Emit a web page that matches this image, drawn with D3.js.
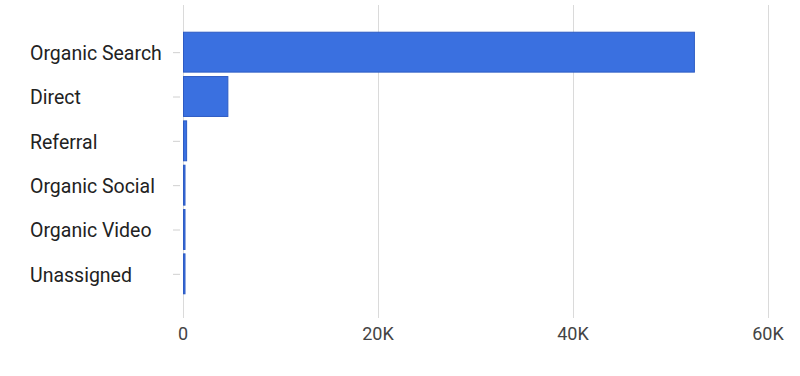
<!DOCTYPE html>
<html>
<head>
<meta charset="utf-8">
<script src="https://cdn.jsdelivr.net/npm/d3@7"></script>
<style>
  body { margin: 0; background: #fff; }
</style>
</head>
<body>
<div id="chart"></div>
<script>
const channels = ["Organic Search", "Direct", "Referral", "Organic Social", "Organic Video", "Unassigned"];
const sessions = [52400, 4550, 320, 40, 30, 20];
const tickValues = [0, 20000, 40000, 60000];

const width = 800;
const height = 376;

const svg = d3.create("svg")
    .attr("width", width)
    .attr("height", height)
    .attr("style", "font-family: Roboto, sans-serif;");

const x = d3.scaleLinear()
    .domain([0, 60000])
    .range([183, 768]);

const y = d3.scaleBand()
    .domain(channels)
    .range([30, 296])
    .paddingInner(0.1)
    .paddingOuter(0.05);

// grid lines
svg.append("g")
    .selectAll("line")
    .data(tickValues)
    .join("line")
    .attr("x1", d => x(d) + 0.5)
    .attr("x2", d => x(d) + 0.5)
    .attr("y1", 5)
    .attr("y2", 318)
    .attr("stroke", "#dadada")
    .attr("stroke-width", 1);

// x tick labels
svg.append("g")
    .selectAll("text")
    .data(tickValues)
    .join("text")
    .attr("x", d => x(d))
    .attr("y", 340)
    .attr("text-anchor", "middle")
    .attr("fill", "#444")
    .attr("font-family", "'Liberation Sans Narrow', Roboto, sans-serif")
    .attr("font-size", "18px")
    .text(d => d === 0 ? "0" : d3.format("~s")(d).replace("k", "K"));

// category ticks
svg.append("g")
    .selectAll("line")
    .data(channels)
    .join("line")
    .attr("x1", 173)
    .attr("x2", 180)
    .attr("y1", d => y(d) + y.bandwidth() / 2 + 0.5)
    .attr("y2", d => y(d) + y.bandwidth() / 2 + 0.5)
    .attr("stroke", "#d0d0d0");

// bars
svg.append("g")
    .selectAll("rect")
    .data(channels)
    .join("rect")
    .attr("x", x(0) + 0.5)
    .attr("y", d => y(d))
    .attr("width", (d, i) => Math.max(1.5, x(sessions[i]) - x(0)))
    .attr("height", y.bandwidth())
    .attr("fill", "#3a70e0")
    .attr("stroke", "#2d5bc4")
    .attr("stroke-width", 1);

// category labels
svg.append("g")
    .selectAll("text")
    .data(channels)
    .join("text")
    .attr("x", 30)
    .attr("y", d => y(d) + y.bandwidth() / 2 + 1)
    .attr("dy", "0.35em")
    .attr("fill", "#222")
    .attr("font-size", "19.5px")
    .text(d => d);

document.getElementById("chart").appendChild(svg.node());
</script>
</body>
</html>
